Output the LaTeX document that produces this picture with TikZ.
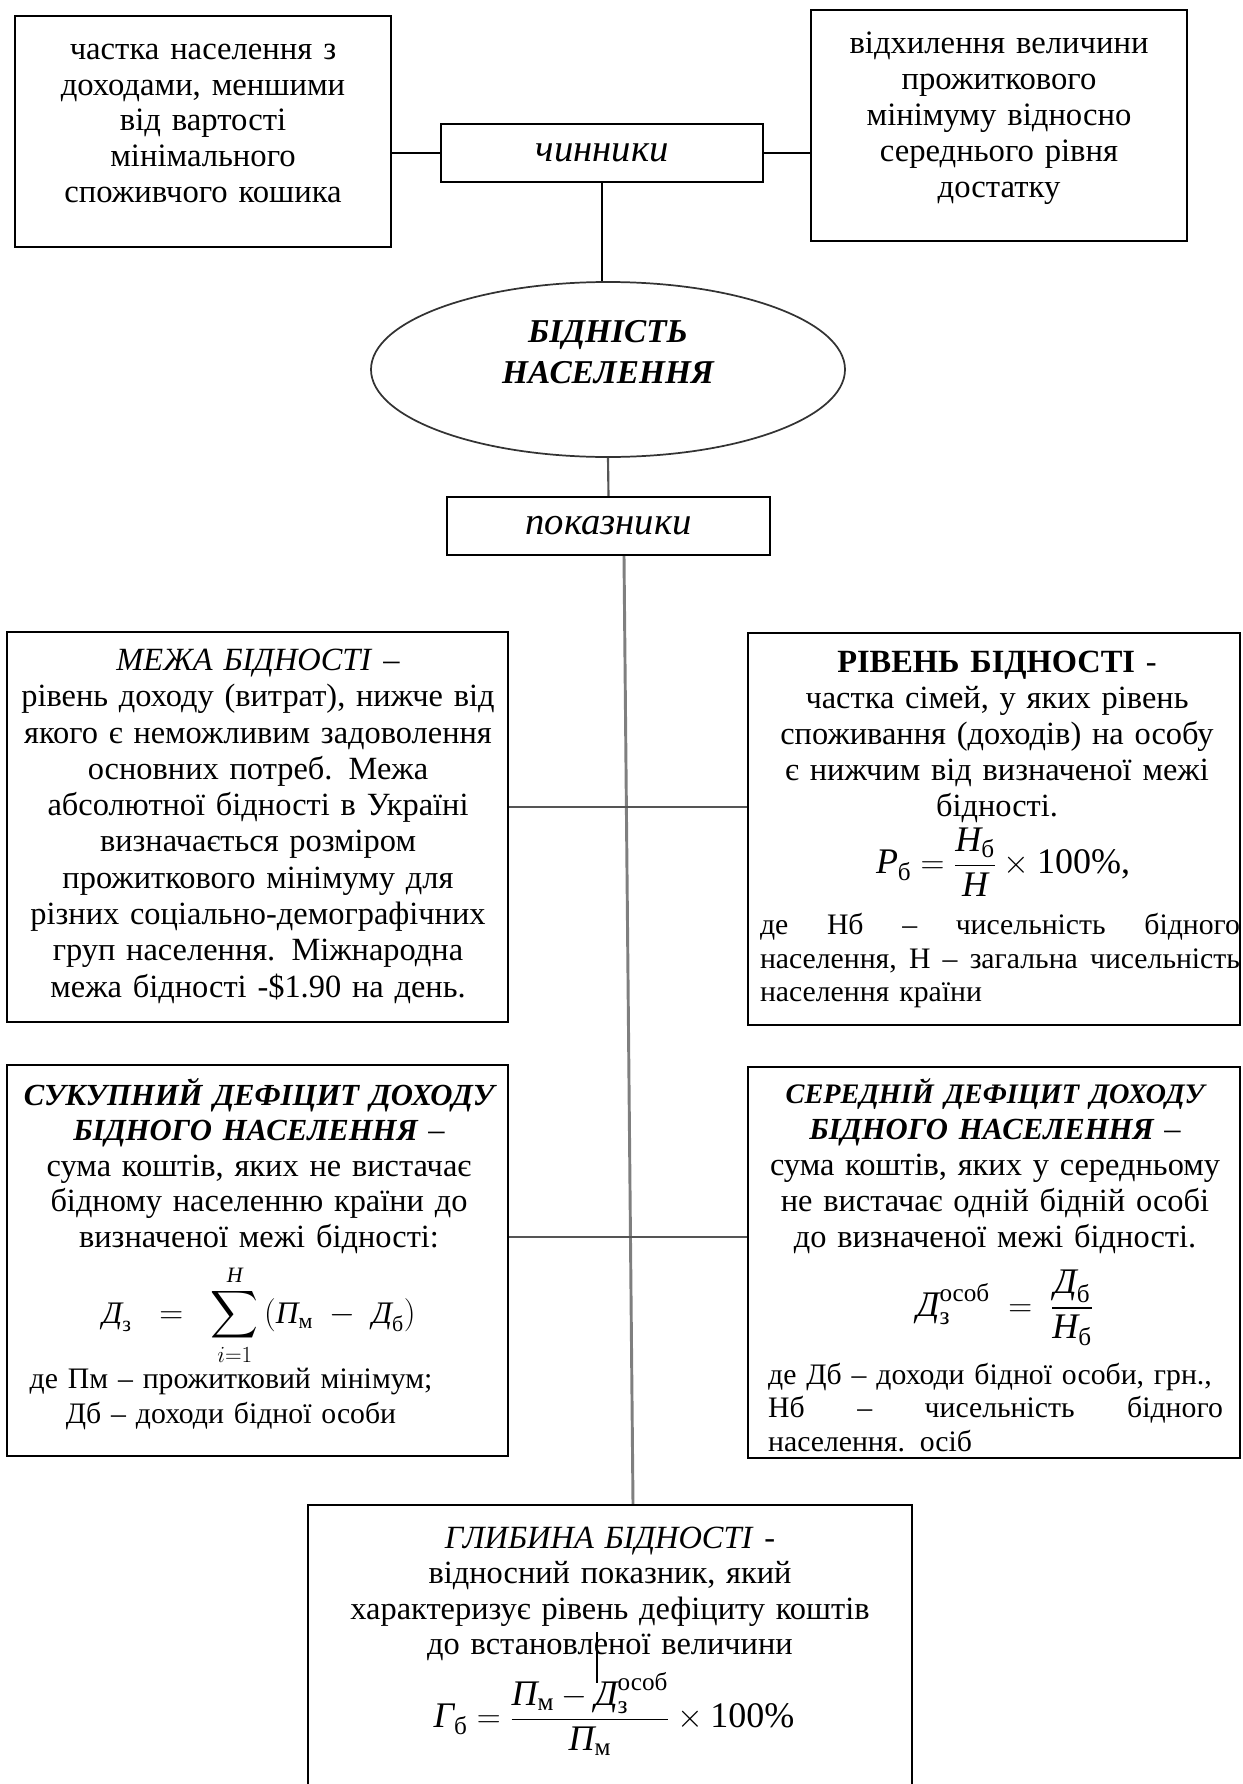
\documentclass[tikz,border=0pt]{standalone}
\usepackage{amsmath}
\usepackage{fontspec}
\setmainfont{Liberation Serif}
\usetikzlibrary{shapes.geometric}

\definecolor{trunkgray}{HTML}{7F7F7F}
\definecolor{linkgray}{HTML}{555555}

\newcommand{\ci}[1]{\textit{#1}}
\newcommand{\cs}[1]{\textup{#1}}
\newcommand{\bititle}[2]{{\fontsize{#1}{26.6}\selectfont\bfseries\itshape #2}}

\tikzset{
  frame/.style={draw, line width=1.8pt, inner sep=0pt},
  body/.style={inner sep=0pt, anchor=north, align=center, font=\fontsize{24.3}{27}\selectfont},
  note/.style={inner sep=0pt, anchor=north, align=center},
  formula/.style={inner sep=0pt, font=\fontsize{27}{31}\selectfont},
  link/.style={line width=1.6pt},
}

\begin{document}
\begin{tikzpicture}[x=0.75pt, y=-0.75pt]
\useasboundingbox (0,0) rectangle (1242,1784);
\clip (0,0) rectangle (1242,1784);

\node[frame, minimum width=282pt, minimum height=173.25pt] (leftbox) at (203, 131.5) {};
\node[body, text width=282pt, font=\fontsize{24.5}{26.8}\selectfont] (lefttxt) at (203, 34)
  {\strut частка населення з\\доходами, меншими\\від вартості\\мінімального\\споживчого кошика};

\node[frame, minimum width=282pt, minimum height=173.25pt] (rightbox) at (999, 125.5) {};
\node[body, text width=282pt, font=\fontsize{24.5}{27}\selectfont] (righttxt) at (999, 28)
  {\strut відхилення величини\\прожиткового\\мінімуму відносно\\середнього рівня\\достатку};

\node[frame, minimum width=241.5pt, minimum height=43.5pt, font=\fontsize{29}{31}\selectfont\itshape] (chynnyky) at (602, 153) {чинники};

\node[ellipse, draw=black!80, line width=1.3pt, minimum width=355.5pt, minimum height=131.25pt, inner sep=0pt] (bidnist) at (608, 369.5) {};
\node[body, font=\fontsize{25}{30.75}\selectfont\bfseries\itshape] (bidnisttxt) at (608, 314)
  {\strut БІДНІСТЬ\\НАСЕЛЕННЯ};

\node[frame, minimum width=242.25pt, minimum height=43.5pt, font=\fontsize{29}{31}\selectfont\itshape] (pokaz) at (608.5, 526) {показники};

\node[frame, minimum width=375.75pt, minimum height=292.5pt] (mezha) at (257.5, 827) {};
\node[body, text width=376pt, font=\fontsize{24.3}{27.2}\selectfont] (mezhatxt) at (258, 645)
  {\strut\textit{МЕЖА БІДНОСТІ} –\\рівень доходу (витрат), нижче від\\якого є неможливим задоволення\\основних потреб. Межа\\абсолютної бідності в Україні\\визначається розміром\\прожиткового мінімуму для\\різних соціально-демографічних\\груп населення. Міжнародна\\межа бідності -\$1.90 на день.};

\node[frame, minimum width=369pt, minimum height=294pt] (riven) at (994, 829) {};
\node[body, text width=369pt] (riventxt) at (997, 647)
  {\strut\textbf{РІВЕНЬ БІДНОСТІ} -\\частка сімей, у яких рівень\\споживання (доходів) на особу\\є нижчим від визначеної межі\\бідності.};
\node[formula] (rivenf) at (1003, 862)
  {$\ci{Р}_{\cs{б}} = \dfrac{\ci{Н}_{\cs{б}}}{\ci{Н}}\times\text{100\%,}$};
\node[note, text width=360pt, font=\fontsize{22.3}{25.1}\selectfont] (rivennote) at (1000, 911)
  {\strut\makebox[360pt]{де\hfill Нб\hfill –\hfill чисельність\hfill бідного}\\\makebox[360pt]{населення,\hfill Н\hfill –\hfill загальна\hfill чисельність}\\\makebox[360pt][l]{населення країни}};

\node[frame, minimum width=375.75pt, minimum height=293.25pt] (sukup) at (257.5, 1260.5) {};
\node[body, text width=376pt, font=\fontsize{24.3}{26.6}\selectfont] (sukuptxt) at (259, 1078)
  {\strut\bititle{23}{СУКУПНИЙ ДЕФІЦИТ ДОХОДУ}\\\bititle{23}{БІДНОГО НАСЕЛЕННЯ} –\\сума коштів, яких не вистачає\\бідному населенню країни до\\визначеної межі бідності:};
\node[formula, font=\fontsize{23.5}{27}\selectfont] (sukupf) at (259, 1315)
  {$\displaystyle\ci{Д}_{\cs{з}} \;\;=\;\; \sum_{i=1}^{\ci{Н}}\,(\ci{П}_{\cs{м}} \;-\; \ci{Д}_{\cs{б}})$};
\node[note, text width=376pt, font=\fontsize{22.3}{26.25}\selectfont] (sukupnote) at (231, 1363.5)
  {\strut де Пм – прожитковий мінімум;\\Дб – доходи бідної особи};

\node[frame, minimum width=369pt, minimum height=293.25pt] (sered) at (994, 1262.5) {};
\node[body, text width=369pt] (seredtxt) at (995, 1078)
  {\strut\bititle{21.2}{СЕРЕДНІЙ ДЕФІЦИТ ДОХОДУ}\\\bititle{23}{БІДНОГО НАСЕЛЕННЯ} –\\сума коштів, яких у середньому\\не вистачає одній бідній особі\\до визначеної межі бідності.};
\node[formula] (seredf) at (1005, 1308)
  {$\ci{Д}_{\cs{з}}^{\cs{особ}} \;=\; \dfrac{\ci{Д}_{\cs{б}}}{\ci{Н}_{\cs{б}}}$};
\node[note, text width=341pt, font=\fontsize{22.3}{25}\selectfont] (serednote) at (995.5, 1361)
  {\strut\makebox[341pt][l]{де Дб – доходи бідної особи, грн.,}\\\makebox[341pt]{Нб\hfill –\hfill чисельність\hfill бідного}\\\makebox[341pt][l]{населення. осіб}};

\node[frame, minimum width=453pt, minimum height=228.75pt] (hlyb) at (610, 1657.5) {};
\node[body, text width=453pt, font=\fontsize{24.3}{26.6}\selectfont] (hlybtxt) at (610, 1523)
  {\strut\textit{ГЛИБИНА БІДНОСТІ} -\\відносний показник, який\\характеризує рівень дефіциту коштів\\до встановленої величини};
\node[formula] (hlybf) at (614, 1714)
  {$\ci{Г}_{\cs{б}} = \dfrac{\ci{П}_{\cs{м}} - \ci{Д}_{\cs{з}}^{\cs{особ}}}{\ci{П}_{\cs{м}}}\times\text{100\%}$};

\coordinate (t1) at (624, 555);
\coordinate (t2) at (633, 1505);
\coordinate (j1) at (626, 807);
\coordinate (j2) at (630, 1237);
\coordinate (m1) at (597, 1632);
\coordinate (m2) at (597, 1683);

\draw[link] (chynnyky.west) -- (chynnyky.west -| leftbox.east);
\draw[link] (chynnyky.east) -- (chynnyky.east -| rightbox.west);
\draw[link] (chynnyky.south) -- (chynnyky.south |- bidnist.north);
\draw[link, draw=linkgray] (bidnist.south) -- (pokaz.north);
\draw[link, line width=2.2pt, draw=trunkgray] (t1 |- pokaz.south) -- (t2 |- hlyb.north);
\draw[link, draw=linkgray] (j1 -| mezha.east) -- (j1 -| riven.west);
\draw[link, draw=linkgray] (j2 -| sukup.east) -- (j2 -| sered.west);
\draw[line width=1pt] (m1) -- (m2);

\end{tikzpicture}
\end{document}
